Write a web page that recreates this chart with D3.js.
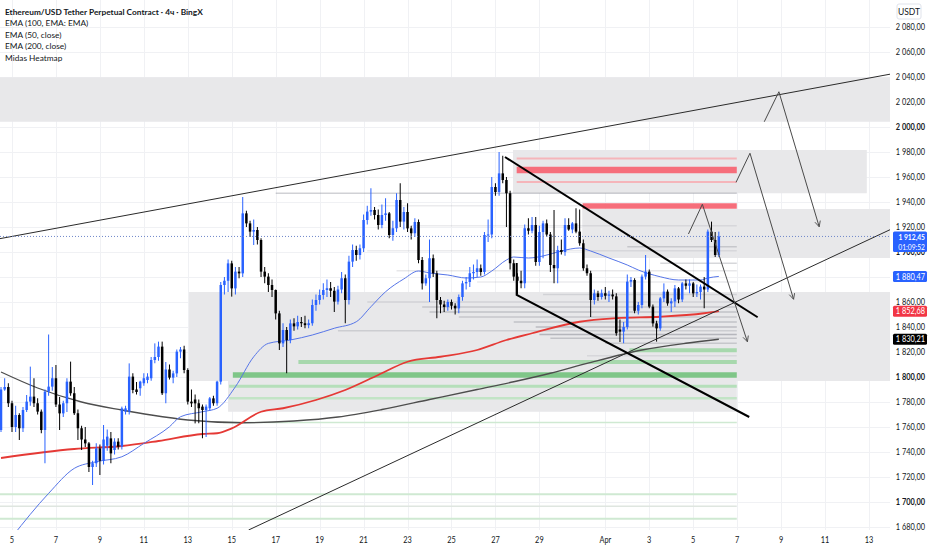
<!DOCTYPE html>
<html>
<head>
<meta charset="utf-8">
<script src="https://cdn.jsdelivr.net/npm/d3@7"></script>
<style>
  html, body { margin: 0; padding: 0; background: #fff; }
  svg { display: block; font-family: Lato, "Noto Sans", sans-serif; }
</style>
</head>
<body>
<div id="chart"></div>
<script>
// 4h candles, bar 0 = 4 Mar 12:00 UTC, [open, high, low, close]
var ohlc = [
  [1757.6,1792,1756,1790],[1790,1799,1789,1792],[1792,1795,1776,1779],[1779,1781,1756,1760],
  [1760,1777,1756,1769.6],[1769.6,1771,1749.6,1759],[1759,1776,1756,1773.6],[1773.6,1785.6,1772,1780.3],
  [1780.3,1808.3,1777,1784.3],[1784.3,1799,1776,1779],[1779,1783,1770,1772.3],[1772.3,1774,1755,1757.6],
  [1757.6,1790,1731,1788.3],[1788.3,1834,1785,1792.3],[1792.3,1808,1789,1799],[1799,1809.6,1776,1778],
  [1778,1784,1757.6,1770.9],[1770.9,1781,1768,1779],[1779,1799,1772,1796.3],[1796.3,1812.3,1785,1787],
  [1787,1792,1769.6,1771],[1771,1774,1749.6,1759],[1759,1761,1741.6,1750],[1750,1760,1744,1746.9],
  [1746.9,1748,1724,1728],[1728,1733,1713.6,1731],[1731,1747,1728,1742.9],[1742.9,1746,1721.6,1733],
  [1733,1761.6,1730,1750],[1745,1758,1741,1752.3],[1750.9,1756,1731,1738.9],[1741.6,1751,1738,1748.3],
  [1748.3,1751,1742,1744.3],[1744.3,1776.3,1742,1774.9],[1772.3,1777,1770,1774.9],[1772.3,1810.9,1770,1800.3],
  [1800.3,1803,1787,1789.6],[1790,1796,1786,1788],[1791,1797,1785,1796.3],[1795,1803,1793,1799],
  [1797.6,1803,1795,1800.3],[1799,1816,1797,1813.6],[1813.6,1826.9,1811,1816],[1816,1828.3,1813,1824.3],
  [1824.3,1828.3,1785.6,1787],[1787,1812,1779,1806],[1806,1810,1798,1799.5],[1799.5,1805,1795,1802.9],
  [1802.9,1822,1800,1820.3],[1820.3,1824,1815,1822],[1822,1825,1803,1805.6],[1805.6,1807,1778,1780.3],
  [1780.3,1790,1776,1778.9],[1782,1786,1762.9,1778.9],[1779,1782,1763,1775],[1776.3,1778,1751,1773.6],
  [1773.6,1778,1752,1776.3],[1775,1784,1773,1782.9],[1782.9,1785,1777,1779],[1779,1797,1777,1796.3],
  [1796.3,1876,1794,1873.6],[1873.6,1880,1866,1877],[1877,1894,1868,1890.9],[1890.9,1893,1864.3,1870.9],
  [1870.9,1888,1866,1884.3],[1884.3,1888,1879,1882.9],[1882.9,1944,1880,1930.9],[1930.9,1933,1920,1922.9],
  [1922.9,1925,1912,1916.3],[1916.3,1926,1905.6,1917.6],[1917.6,1920,1906,1909.6],[1909.6,1911,1880,1884.3],
  [1884.3,1888,1875,1880.3],[1880.3,1883,1868,1873.6],[1873.6,1878,1864,1869.6],[1869.6,1870,1846,1850.9],
  [1850.9,1853,1821.6,1826.9],[1826.9,1843,1824,1837.6],[1837.6,1840,1803,1829.6],[1829.6,1846,1827,1842.9],
  [1842.9,1847,1837,1840.5],[1840.5,1849,1838,1844],[1844,1848,1840,1843],[1843,1849,1839,1841.5],
  [1841.5,1846,1839,1843],[1843,1862,1841,1857.6],[1857.6,1866,1853,1861.6],[1861.6,1870,1858,1865.6],
  [1865.6,1875,1862,1869.6],[1869.6,1878,1864,1871],[1871,1876,1864,1869],[1869,1872,1852,1860.3],
  [1860.3,1873,1858,1870],[1870,1884,1867,1879],[1879,1882,1843,1861.6],[1861.6,1897,1858,1892.3],
  [1892.3,1906,1888,1901.6],[1901.6,1905,1893,1897.6],[1897.6,1906,1894,1903],[1903,1930,1900,1925.6],
  [1925.6,1937,1922,1932.3],[1932.3,1951,1929,1933.6],[1933.6,1936,1926,1929.6],[1929.6,1934,1918,1921.6],
  [1921.6,1938,1919,1929.6],[1929.6,1943,1925,1930.9],[1930.9,1932,1911,1913.6],[1913.6,1925,1909,1919],
  [1919,1947,1916,1941.6],[1941.6,1955,1920,1924.3],[1924.3,1936,1918,1932],[1932,1939,1916,1918.9],
  [1918.9,1921,1910,1915],[1915,1927,1912,1924],[1924,1926,1891,1893.6],[1893.6,1896,1870,1874.9],
  [1874.9,1882,1873,1879],[1879,1910,1860,1895],[1895,1898,1880,1882.9],[1882.9,1885,1847,1861.6],
  [1861.6,1864,1851,1858],[1858,1861,1852,1856],[1856,1862,1853,1860],[1860,1862,1854,1857],
  [1857,1859,1850,1854.9],[1854.9,1866,1851,1864],[1864,1877,1861,1874.9],[1874.9,1880,1870,1876],
  [1876,1888,1872,1883],[1883,1890,1878,1884],[1884,1894,1880,1887],[1887,1890,1881,1884],
  [1884,1916,1882,1913.6],[1913.6,1926,1908,1914],[1914,1960,1911,1952],[1952,1955,1945,1948],
  [1948,1980,1945,1962.9],[1962.9,1977,1955,1957.6],[1957.6,1960,1920,1947],[1947,1949,1886,1891],
  [1891,1894,1877,1880.3],[1880.3,1883,1866,1877],[1877,1885,1871,1875],[1875,1922,1871,1919],
  [1919,1927,1914,1917],[1917,1928,1915,1921.6],[1921.6,1928,1889,1892],[1892,1921,1889,1916],
  [1916,1925,1895,1922.9],[1922.9,1926,1912,1914],[1914,1916,1884,1889.6],[1889.6,1933.6,1875,1887],
  [1887,1905,1875,1901.6],[1901.6,1910,1898,1900],[1900,1927,1897,1921.6],[1921.6,1927,1917,1918],
  [1918,1924,1915,1922.9],[1922.9,1935,1915,1916.3],[1916.3,1934,1905,1907],[1907,1910,1885,1887],
  [1887,1890,1881,1883],[1883,1885,1848,1861.6],[1861.6,1870,1858,1866.9],[1866.9,1869,1861,1864],
  [1864,1870,1862,1867],[1867,1872,1862,1865],[1865,1869,1860,1866],[1866,1870,1862,1864.5],
  [1864.5,1867,1833,1835],[1838,1846,1828,1836.3],[1836.3,1844,1827,1840],[1840,1882,1838,1876.3],
  [1876.3,1880,1872,1877.6],[1877.6,1879,1851,1853],[1853,1860,1850,1857.6],[1857.6,1882,1855,1880.3],
  [1880.3,1897.6,1878,1884.3],[1884.3,1886,1855,1856.3],[1856.3,1858,1840.3,1842.9],[1842.9,1845,1828.3,1838.9],
  [1838.9,1864,1837,1862.9],[1862.9,1874.9,1860,1868.3],[1868.3,1870,1857,1858.9],[1858.9,1863,1852,1860.5],
  [1860.5,1873.6,1856,1870.9],[1870.9,1872,1859,1862],[1862,1876,1860,1874.9],[1874.9,1878,1870,1873],
  [1873,1878,1867,1874.9],[1874.9,1876,1864,1866.9],[1866.9,1874,1864,1868],[1868,1874,1862,1872.3],
  [1872.3,1880,1855,1870],[1870,1918,1868,1916.3],[1916.3,1924.3,1908,1909.6],[1909.6,1916,1896,1897.6],
  [1897.6,1916.3,1896,1912.45]
];

// indicator lines (bar index, price)
var ema50Bars = [3,13,20,26,33,39,46,49,55,59,64,69,73,79,85,91,97,101,105,110,114,117,122,127,131,134,138,140,144,148,153,158,161,166,171,174,180,185,191,193,196];
var ema50 = [1672,1706.9,1726.9,1732.2,1736.2,1746.9,1760.2,1768.2,1772.2,1775,1792.2,1816.2,1826.9,1829.6,1833.6,1839,1844.2,1856.2,1868.2,1878.5,1884.8,1883.2,1881.6,1879.2,1880,1884.8,1893.6,1896,1895.2,1896.8,1900.8,1903.2,1900.8,1895.2,1889.6,1885.6,1880.2,1877.6,1877.6,1879.2,1880.47];
var ema200Bars = [0,20,33,43,55,59,63,71,77,86,94,103,111,120,130,138,145,158,168,180,192,196];
var ema200 = [1735.2,1742.4,1744.8,1748.8,1754.4,1755,1758.9,1772.2,1775,1781.6,1789.6,1801.6,1812.2,1816.2,1821.6,1829.6,1835,1844.2,1847,1848.2,1851,1852.68];
var ema100Bars = [0,10,22,33,41,51,66,80,92,104,117,130,140,150,160,175,187,196];
var ema100 = [1804,1791.2,1780,1773.6,1769.6,1765.6,1763.4,1764.8,1768,1774,1782,1790,1796.2,1803,1810.9,1821.6,1827,1830.21];

// drawn zones [startBar, endBar, topPrice, bottomPrice]
var zones = [
  [-2, 246, 2039.8, 2004.2],
  [139.8, 236.4, 1981.6, 1947],
  [158.7, 246, 1934.4, 1895.2],
  [51.3, 246, 1868, 1796.8],
  [62, 200.9, 1796.8, 1772.2]
];

// heatmap levels [price, startBar, thickness, colour]
var redLevels = [
  [1974.9, 140.8, 2, "#f5b5ba"],
  [1965.6, 140.8, 6.5, "#f66e7b"],
  [1956, 140.8, 2, "#f5b5ba"],
  [1936.8, 158.8, 5.7, "#f66e7b"]
];
var greenLevels = [
  [1821.4, 171.6, 4, "#a7d8ad"],
  [1812, 81.2, 4, "#a7d8ad"],
  [1801.6, 63.3, 5.3, "#7fc688"],
  [1792.6, 62.3, 3, "#b5dfba"],
  [1783, 62.3, 2.5, "#c2e4c6"],
  [1763.6, 60.6, 1.5, "#cfe9d2"],
  [1706.2, -2, 2, "#cfe9d2"],
  [1696.6, -2, 1.5, "#dfe6e0"],
  [1686.6, -2, 2, "#cfe9d2"]
];
var greyLevels = [
  [1947, 75, 0.35],[1937, 103, 0.15],[1921, 112, 0.15],[1904.3, 171, 0.3],[1901, 100, 0.15],
  [1891, 180, 0.3],[1885, 108, 0.18],[1876, 130, 0.15],[1866, 148, 0.2],[1860, 100, 0.2],
  [1856, 115, 0.3],[1852, 117, 0.35],[1848, 125, 0.3],[1844, 140, 0.35],[1840, 146, 0.4],
  [1837, 92, 0.25],[1834, 147, 0.45],[1831, 150, 0.35],[1827, 165, 0.3],[1817, 160, 0.15]
];
var heatEnd = 200.9;

// trend lines [[bar, price], ...]
var thinLines = [
  [[-1, 1910.3], [243, 2042.4]],
  [[67.6, 1677.6], [243, 1918.2]]
];
var thickLines = [
  [[137.6, 1976], [206.6, 1847.8]],
  [[140.8, 1891.2], [140.8, 1865.6], [204.3, 1768]]
];
var arrows = [
  [[208.4, 2004.2], [212.4, 2028.2], [223.4, 1920.2]],
  [[200.7, 1955.8], [204.5, 1979], [216.4, 1862.2]],
  [[187.7, 1914.4], [191.5, 1938.2], [203.8, 1828.2]]
];

var priceTicks = d3.range(1680, 2081, 20);
var dateTicks = ["2023-03-05","2023-03-07","2023-03-09","2023-03-11","2023-03-13","2023-03-15","2023-03-17",
  "2023-03-19","2023-03-21","2023-03-23","2023-03-25","2023-03-27","2023-03-29","2023-04-01","2023-04-03",
  "2023-04-05","2023-04-07","2023-04-09","2023-04-11","2023-04-13"];
var legend = ["Ethereum/USD Tether Perpetual Contract · 4ч · BingX", "EMA (100, EMA: EMA)",
  "EMA (50, close)", "EMA (200, close)", "Midas Heatmap"];
var lastPrice = 1912.45, countdown = "01:09:52";
var priceTags = [[1880.47, "#2962ff", "#fff"], [1852.68, "#f23645", "#fff"], [1830.21, "#000", "#fff"]];

var width = 932, height = 550, plotW = 890, plotH = 530;
var t0 = Date.UTC(2023, 2, 4, 12);
function barTime(b) { return new Date(t0 + b * 4 * 3600e3); }

var x = d3.scaleUtc()
  .domain([new Date(Date.UTC(2023, 2, 5)), new Date(Date.UTC(2023, 3, 13))])
  .range([12, 869]);
var y = d3.scaleLinear().domain([1680, 2080]).range([527, 27]);
var fmt = d3.formatLocale({decimal: ",", thousands: " ", grouping: [3], currency: ["", ""]}).format(",.2f");
var squeeze = "scale(0.82,1)";  // the axis font is a narrow one

var svg = d3.select("#chart").append("svg")
  .attr("width", width).attr("height", height);

var defs = svg.append("defs");
defs.append("clipPath").attr("id", "plot")
  .append("rect").attr("width", plotW).attr("height", plotH);
defs.append("marker").attr("id", "arr")
  .attr("viewBox", "0 0 10 10").attr("refX", 9).attr("refY", 5)
  .attr("markerWidth", 7).attr("markerHeight", 7).attr("orient", "auto")
  .append("path").attr("d", "M1,1L9,5L1,9")
  .attr("fill", "none").attr("stroke", "#4a4a4a").attr("stroke-width", 1.2);

var plot = svg.append("g").attr("clip-path", "url(#plot)");

// grid
plot.append("g").selectAll("line").data(priceTicks).join("line")
  .attr("x1", 0).attr("x2", plotW)
  .attr("y1", d => Math.round(y(d)) + 0.5).attr("y2", d => Math.round(y(d)) + 0.5)
  .attr("stroke", "#f0f1f4");
plot.append("g").selectAll("line").data(dateTicks).join("line")
  .attr("x1", d => Math.round(x(new Date(d))) + 0.5).attr("x2", d => Math.round(x(new Date(d))) + 0.5)
  .attr("y1", 0).attr("y2", plotH)
  .attr("stroke", "#f0f1f4");

// zones
plot.append("g").selectAll("rect").data(zones).join("rect")
  .attr("x", d => x(barTime(d[0])))
  .attr("width", d => x(barTime(d[1])) - x(barTime(d[0])))
  .attr("y", d => y(d[2]))
  .attr("height", d => y(d[3]) - y(d[2]))
  .attr("fill", "#e8e8ea");

// heatmap
plot.append("g").selectAll("line").data(greyLevels).join("line")
  .attr("x1", d => x(barTime(d[1]))).attr("x2", x(barTime(heatEnd)))
  .attr("y1", d => y(d[0])).attr("y2", d => y(d[0]))
  .attr("stroke", "#787b86").attr("stroke-opacity", d => d[2]).attr("stroke-width", 1.5);
plot.append("g").selectAll("line").data(redLevels.concat(greenLevels)).join("line")
  .attr("x1", d => x(barTime(d[1]))).attr("x2", x(barTime(heatEnd)))
  .attr("y1", d => y(d[0])).attr("y2", d => y(d[0]))
  .attr("stroke", d => d[3]).attr("stroke-width", d => d[2]);

// indicators
function indLine(bars, vals, color, w) {
  var pts = bars.map((b, i) => [x(barTime(b)), y(vals[i])]);
  plot.append("path")
    .attr("d", d3.line().curve(d3.curveMonotoneX)(pts))
    .attr("fill", "none").attr("stroke", color).attr("stroke-width", w);
}
indLine(ema100Bars, ema100, "#4d4d4d", 1.3);
indLine(ema200Bars, ema200, "#e53935", 1.8);
indLine(ema50Bars, ema50, "#5675e8", 1);

// candles
var step = x(barTime(1)) - x(barTime(0));
var bw = Math.max(1, step * 0.68);
var candle = plot.append("g").selectAll("g").data(ohlc).join("g");
candle.append("line")
  .attr("x1", (d, i) => x(barTime(i))).attr("x2", (d, i) => x(barTime(i)))
  .attr("y1", d => y(d[1])).attr("y2", d => y(d[2]))
  .attr("stroke", d => d[3] >= d[0] ? "#2962ff" : "#000").attr("stroke-width", 1);
candle.append("rect")
  .attr("x", (d, i) => x(barTime(i)) - bw / 2).attr("width", bw)
  .attr("y", d => y(Math.max(d[0], d[3])))
  .attr("height", d => Math.max(1, Math.abs(y(d[0]) - y(d[3]))))
  .attr("fill", d => d[3] >= d[0] ? "#2962ff" : "#000");

// drawings
var lineGen = d3.line().x(d => x(barTime(d[0]))).y(d => y(d[1]));
plot.append("g").selectAll("path").data(thinLines).join("path")
  .attr("d", lineGen).attr("fill", "none").attr("stroke", "#2a2a2a").attr("stroke-width", 1);
plot.append("g").selectAll("path").data(thickLines).join("path")
  .attr("d", lineGen).attr("fill", "none").attr("stroke", "#000").attr("stroke-width", 2);
plot.append("g").selectAll("path").data(arrows).join("path")
  .attr("d", lineGen).attr("fill", "none").attr("stroke", "#4a4a4a").attr("stroke-width", 1)
  .attr("marker-end", "url(#arr)");

// last price dotted line
plot.append("line")
  .attr("x1", 0).attr("x2", plotW)
  .attr("y1", y(lastPrice)).attr("y2", y(lastPrice))
  .attr("stroke", "#6f86c9").attr("stroke-dasharray", "1,2");

// price axis
var axisG = svg.append("g").style("font-size", "9px").attr("fill", "#131722");
axisG.selectAll("g").data(priceTicks.filter(p => p !== 1900)).join("g")
  .attr("transform", d => "translate(925," + y(d) + ")")
  .append("text").attr("transform", squeeze).attr("dy", "0.35em")
  .attr("text-anchor", "end")
  .style("font-weight", d => d % 100 === 0 ? 700 : 400)
  .text(d => fmt(d));
// 1 900,00 sits half under the live-price tag
svg.append("clipPath").attr("id", "under").append("rect")
  .attr("x", 890).attr("y", y(lastPrice) + 15.5).attr("width", 42).attr("height", 20);
svg.append("g").attr("clip-path", "url(#under)")
  .append("g").attr("transform", "translate(925," + y(1900) + ")")
  .append("text").attr("transform", squeeze).attr("dy", "0.35em").attr("text-anchor", "end")
  .style("font-size", "9px").style("font-weight", 700).attr("fill", "#131722").text(fmt(1900));

svg.append("rect").attr("x", 897).attr("y", 4).attr("width", 24).attr("height", 15)
  .attr("fill", "#fff").attr("stroke", "#e0e3eb").attr("rx", 2);
svg.append("text").attr("x", 909).attr("y", 14.5).attr("text-anchor", "middle")
  .style("font-size", "8.5px").attr("fill", "#131722").text("USDT");

// price tags
svg.append("rect").attr("x", 893).attr("y", y(lastPrice) - 5).attr("width", 34).attr("height", 20.5)
  .attr("fill", "#2962ff").attr("rx", 1.5);
var live = svg.append("g").attr("transform", "translate(925," + y(lastPrice) + ")")
  .append("g").attr("transform", squeeze).style("font-size", "8.2px").attr("fill", "#fff")
  .attr("text-anchor", "end");
live.append("text").attr("y", 3.2).style("font-weight", 700).text(fmt(lastPrice));
live.append("text").attr("y", 13.6).text(countdown);
var tags = svg.append("g").selectAll("g").data(priceTags).join("g");
tags.append("rect").attr("x", 893).attr("y", d => y(d[0]) - 5.5).attr("width", 34).attr("height", 11)
  .attr("fill", d => d[1]).attr("rx", 1.5);
tags.append("g").attr("transform", d => "translate(925," + y(d[0]) + ")")
  .append("text").attr("transform", squeeze).attr("dy", "0.35em")
  .attr("text-anchor", "end").style("font-size", "9px").attr("fill", d => d[2])
  .text(d => fmt(d[0]));

// time axis
svg.append("g").style("font-size", "9px").attr("fill", "#131722")
  .selectAll("g").data(dateTicks).join("g")
  .attr("transform", d => "translate(" + x(new Date(d)) + ",543)")
  .append("text").attr("transform", squeeze)
  .attr("text-anchor", "middle")
  .text(d => { var dt = new Date(d); return dt.getUTCDate() === 1 ? "Apr" : dt.getUTCDate(); });

// legend
svg.append("g").style("font-size", "8.3px").attr("fill", "#131722")
  .selectAll("text").data(legend).join("text")
  .attr("x", 5).attr("y", (d, i) => 14.5 + i * 11.5)
  .style("font-weight", (d, i) => i === 0 ? 700 : 400)
  .text(d => d);
</script>
</body>
</html>
